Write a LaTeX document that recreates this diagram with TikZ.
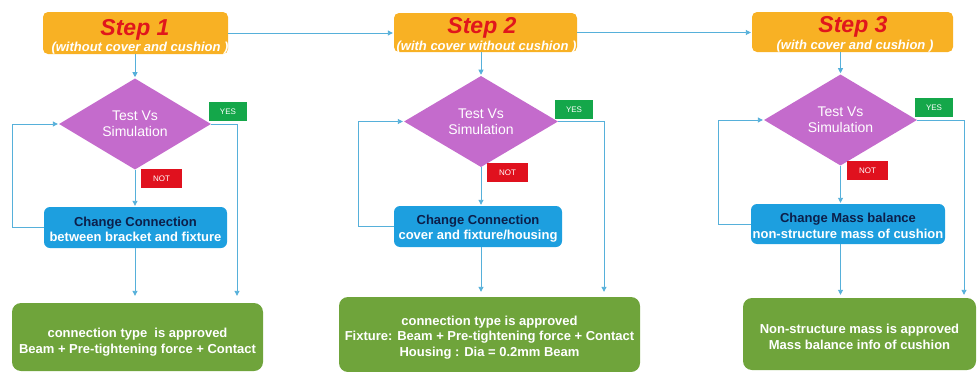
\documentclass[tikz,border=0pt]{standalone}
\usepackage{fontspec}
\setmainfont{Liberation Sans}
\usetikzlibrary{shapes.geometric,arrows.meta,calc}
\definecolor{stepor}{HTML}{F8B124}
\definecolor{stepred}{HTML}{E0161C}
\definecolor{diapur}{HTML}{C46BCC}
\definecolor{chblue}{HTML}{1D9FDF}
\definecolor{chnavy}{HTML}{0C1F4A}
\definecolor{okgreen}{HTML}{6FA43B}
\definecolor{yesgreen}{HTML}{14A74A}
\definecolor{notred}{HTML}{E0111E}
\definecolor{linec}{HTML}{56B0DA}
\tikzset{
  x=1pt, y=-1pt,
  stepbox/.style={fill=stepor, rounded corners=5pt, inner sep=0pt},
  steptitle/.style={anchor=base, inner sep=0pt, text=stepred,
     font=\bfseries\itshape\fontsize{23}{24}\selectfont},
  stepsub/.style={anchor=base, inner sep=0pt, text=white,
     font=\bfseries\itshape\fontsize{13}{14}\selectfont},
  testdia/.style={diamond, fill=diapur, inner sep=0pt, text=white, align=center,
     font=\fontsize{14}{16}\selectfont},
  chbox/.style={fill=chblue, rounded corners=6pt, inner sep=0pt},
  chtext/.style={inner sep=0pt, align=center,
     font=\bfseries\fontsize{13}{15.5}\selectfont, text=white},
  okbox/.style={fill=okgreen, rounded corners=9pt, inner sep=0pt},
  oktext/.style={inner sep=0pt, align=center,
     font=\bfseries\fontsize{13}{15.5}\selectfont, text=white},
  yestag/.style={fill=yesgreen, minimum width=38pt, minimum height=19pt, inner sep=0pt,
     text=white, font=\fontsize{8}{9}\selectfont},
  nottag/.style={fill=notred, minimum width=41pt, minimum height=19pt, inner sep=0pt,
     text=white, font=\fontsize{8}{9}\selectfont},
  conn/.style={draw=linec, line width=0.9pt, -{Triangle[length=5pt,width=5pt]}, shorten >=1pt},
}
\begin{document}
\begin{tikzpicture}
\useasboundingbox (0,0) rectangle (980,372);
% step boxes
\node[stepbox, minimum width=185pt, minimum height=42pt] (s1) at (135.5,33) {};
\node[stepbox, minimum width=183pt, minimum height=39pt] (s2) at (485.5,32.5) {};
\node[stepbox, minimum width=201pt, minimum height=40pt] (s3) at (852.5,32) {};
\node[steptitle] (s1t) at (135,35) {Step 1};
\node[stepsub] (s1s) at (140,51.5) {(without cover and cushion )};
\node[steptitle] (s2t) at (482,33) {Step 2};
\node[stepsub] (s2s) at (486.5,50) {(with cover without cushion )};
\node[steptitle] (s3t) at (853,32) {Step 3};
\node[stepsub] (s3s) at (855,49) {(with cover and cushion )};
% diamonds
\node[testdia, minimum width=152pt, minimum height=68pt] (d1) at (135,124) {Test Vs\\Simulation};
\node[testdia, minimum width=154pt, minimum height=69pt] (d2) at (481,121.5) {Test Vs\\Simulation};
\node[testdia, minimum width=153pt, minimum height=70pt] (d3) at (840.5,120) {Test Vs\\Simulation};
% change boxes
\node[chbox, minimum width=183pt, minimum height=41pt] (c1) at (135.5,227.5) {};
\node[chbox, minimum width=168pt, minimum height=41pt] (c2) at (478,226.5) {};
\node[chbox, minimum width=194pt, minimum height=40pt] (c3) at (848,224) {};
\node[chtext, yshift=-2pt] (c1t) at (c1) {\textcolor{chnavy}{Change Connection}\\between bracket and fixture};
\node[chtext, yshift=-2pt] (c2t) at (c2) {\textcolor{chnavy}{Change Connection}\\cover and fixture/housing};
\node[chtext, yshift=-2pt] (c3t) at (c3) {\textcolor{chnavy}{Change Mass balance}\\non-structure mass of cushion};
% approved boxes
\node[okbox, minimum width=251pt, minimum height=68pt] (g1) at (137.5,337) {};
\node[okbox, minimum width=301pt, minimum height=75pt] (g2) at (489.5,334.5) {};
\node[okbox, minimum width=233pt, minimum height=72pt] (g3) at (859.5,334) {};
\node[oktext, yshift=-5pt] (g1t) at (g1) {connection type\ \ is approved\\Beam + Pre-tightening force + Contact};
\node[oktext, yshift=-3pt] (g2t) at (g2) {connection type is approved\\Fixture: Beam + Pre-tightening force + Contact\\Housing : Dia = 0.2mm Beam};
\node[oktext, yshift=-3pt] (g3t) at (g3) {Non-structure mass is approved\\Mass balance info of cushion};
% tags
\node[yestag] (y1) at (228,111.5) {YES};
\node[yestag] (y2) at (574,109.5) {YES};
\node[yestag] (y3) at (934,107.5) {YES};
\node[nottag] (n1) at (161.5,178.5) {NOT};
\node[nottag] (n2) at (507.5,172.5) {NOT};
\node[nottag] (n3) at (867.5,170.5) {NOT};
% helper coordinates
\coordinate (yx1) at (237,0);
\coordinate (yx2) at (604,0);
\coordinate (yx3) at (964,0);
\coordinate (lx1) at (12,0);
\coordinate (lx2) at (358,0);
\coordinate (lx3) at (718,0);
% connectors between steps
\draw[conn] (s1.east) -- (s1.east -| s2.west);
\draw[conn] (s2.east) -- (s2.east -| s3.west);
% step -> diamond
\draw[conn] (s1.south -| d1.north) -- (d1.north);
\draw[conn] (s2.south -| d2.north) -- (d2.north);
\draw[conn] (s3.south -| d3.north) -- (d3.north);
% diamond -> change (NOT)
\draw[conn] (d1.south) -- (d1.south |- c1.north);
\draw[conn] (d2.south) -- (d2.south |- c2.north);
\draw[conn] (d3.south) -- (d3.south |- c3.north);
% change -> approved
\draw[conn, shorten >=7pt] (c1.south -| d1.south) -- (g1.north -| d1.south);
\draw[conn, shorten >=5pt] (c2.south -| d2.south) -- (g2.north -| d2.south);
\draw[conn, shorten >=3pt] (c3.south -| d3.south) -- (g3.north -| d3.south);
% YES path
\draw[conn, shorten >=7pt] (d1.east) -- (d1.east -| yx1) -- (yx1 |- g1.north);
\draw[conn, shorten >=5pt] (d2.east) -- (d2.east -| yx2) -- (yx2 |- g2.north);
\draw[conn, shorten >=3pt] (d3.east) -- (d3.east -| yx3) -- (yx3 |- g3.north);
% loops back
\draw[conn] (c1.west) -- (c1.west -| lx1) |- (d1.west);
\draw[conn] (c2.west) -- (c2.west -| lx2) |- (d2.west);
\draw[conn] (c3.west) -- (c3.west -| lx3) |- (d3.west);
\end{tikzpicture}
\end{document}
